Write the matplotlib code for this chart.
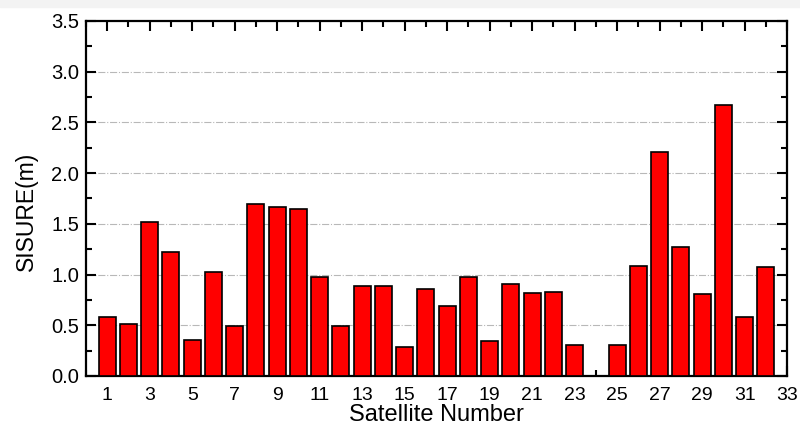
import numpy as np
import matplotlib as mpl
import matplotlib.pyplot as plt
from matplotlib.ticker import MultipleLocator, FormatStrFormatter

mpl.rcParams["font.family"] = ["Liberation Sans", "DejaVu Sans"]

# satellite numbers (PRN 24 has no value)
satellites = [1, 2, 3, 4, 5, 6, 7, 8, 9, 10, 11, 12, 13, 14, 15, 16,
              17, 18, 19, 20, 21, 22, 23, 25, 26, 27, 28, 29, 30, 31, 32]
sisure = [0.58, 0.51, 1.52, 1.22, 0.35, 1.03, 0.49, 1.70, 1.67, 1.65, 0.98,
          0.49, 0.885, 0.885, 0.29, 0.86, 0.69, 0.98, 0.345, 0.91, 0.82,
          0.83, 0.31, 0.31, 1.08, 2.21, 1.27, 0.81, 2.67, 0.58, 1.07]

fig = plt.figure(figsize=(8, 4.28), dpi=100)
# faint grey strip along the top edge, as in the scanned figure
fig.patches.append(plt.Rectangle((0, 0.983), 1, 0.017, transform=fig.transFigure,
                                 color="#f3f3f3", zorder=0))
ax = fig.add_axes([0.1075, 0.1215, 0.8765, 0.8295])

ax.bar(satellites, sisure, width=0.8, color="#ff0000",
       edgecolor="black", linewidth=1.2, zorder=3)

ax.set_xlim(0, 33)
ax.set_ylim(0, 3.5)
ax.set_xticks(np.arange(1, 34, 2))
ax.xaxis.set_minor_locator(MultipleLocator(1))
ax.yaxis.set_major_locator(MultipleLocator(0.5))
ax.yaxis.set_minor_locator(MultipleLocator(0.25))
ax.yaxis.set_major_formatter(FormatStrFormatter("%.1f"))

ax.tick_params(which="both", direction="in", top=True, right=True, width=1.5)
ax.tick_params(which="major", length=7)
ax.tick_params(which="minor", length=4)
ax.tick_params(axis="x", labelsize=14, pad=8)
ax.tick_params(axis="y", labelsize=14.5, pad=5)
for s in ax.spines.values():
    s.set_linewidth(1.6)

for yv in np.arange(0.5, 3.01, 0.5):
    ax.axhline(yv, color="#b8b8b8", linestyle="-.", linewidth=0.8, zorder=1)

ax.set_xlabel("Satellite Number", fontsize=17, labelpad=0)
ax.set_ylabel("SISURE(m)", fontsize=16.5)
ax.yaxis.set_label_coords(-0.068, 0.465)

plt.savefig("out.png", dpi=100)
plt.close(fig)
